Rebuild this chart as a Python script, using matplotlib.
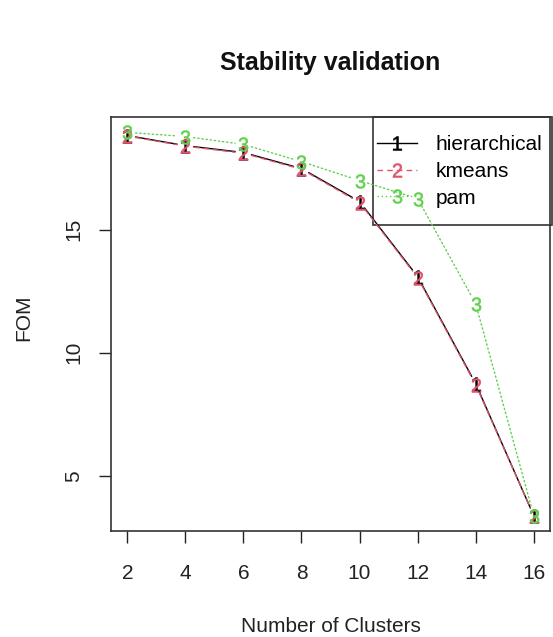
import matplotlib
matplotlib.use("Agg")
import matplotlib.pyplot as plt
from matplotlib.lines import Line2D
from matplotlib.patches import Rectangle

# values
clusters = [2, 4, 6, 8, 10, 12, 14, 16]
fom_hierarchical = [18.82, 18.41, 18.13, 17.48, 16.14, 13.09, 8.74, 3.38]
fom_kmeans = [18.8, 18.39, 18.1, 17.45, 16.1, 13.05, 8.7, 3.38]
fom_pam = [18.95, 18.78, 18.46, 17.76, 16.99, 16.26, 11.99, 3.38]
series_names = ["hierarchical", "kmeans", "pam"]

plt.rcParams["font.family"] = ["Liberation Sans", "DejaVu Sans"]
plt.rcParams["mathtext.fontset"] = "custom"
plt.rcParams["mathtext.rm"] = "Liberation Sans"
plt.rcParams["mathtext.it"] = "Liberation Sans"

colors = ["black", "#DF536B", "#61D04F"]
styles = ["-", (0, (4, 3)), (0, (1, 2))]
symbols = ["$1$", "$2$", "$3$"]

W, H = 553, 637
fig = plt.figure(figsize=(W / 100, H / 100), dpi=100)
ax = fig.add_axes([111 / W, 1 - 531 / H, (550 - 111) / W, (531 - 117) / H])

all_series = [fom_hierarchical, fom_kmeans, fom_pam]

# R style type="b": segments stop short of the point symbols
for vals, c, ls, sym in zip(all_series, colors, styles, symbols):
    for x0, y0, x1, y1 in zip(clusters[:-1], vals[:-1], clusters[1:], vals[1:]):
        ax.annotate("", xy=(x1, y1), xytext=(x0, y0),
                    arrowprops=dict(arrowstyle="-", color=c, linestyle=ls,
                                    lw=1.0, shrinkA=6, shrinkB=6))
    ax.plot(clusters, vals, linestyle="none", marker=sym, markersize=10,
            color=c, markeredgewidth=0.4)

# 4% padding like base R
xmin, xmax = min(clusters), max(clusters)
ymin = min(min(s) for s in all_series)
ymax = max(max(s) for s in all_series)
ax.set_xlim(xmin - 0.04 * (xmax - xmin), xmax + 0.04 * (xmax - xmin))
ax.set_ylim(ymin - 0.04 * (ymax - ymin), ymax + 0.04 * (ymax - ymin))

ax.set_xticks(clusters)
ax.set_yticks([5, 10, 15])
ax.tick_params(axis="both", direction="out", length=8.6, width=1,
               labelsize=15, colors="#222222")
ax.tick_params(axis="x", pad=15)
ax.tick_params(axis="y", pad=11.5)
for lab in ax.get_yticklabels():
    lab.set_rotation(90)
    lab.set_va("center")
for s in ax.spines.values():
    s.set_color("#333333")
    s.set_linewidth(1.2)

ax.set_xlabel("Number of Clusters", fontsize=15, color="#222222")
ax.xaxis.set_label_coords(0.5, -0.23)
ax.xaxis.label.set_va("center")
ax.set_ylabel("FOM", fontsize=15, color="#222222")
ax.yaxis.set_label_coords(-0.198, 0.514)
ax.yaxis.label.set_va("center")
ax.text(0.5, 1.13, "Stability validation", transform=ax.transAxes,
        ha="center", va="center", fontsize=18, fontweight="bold",
        color="#111111")

# legend like R: transparent box, little side padding, roomy top/bottom
handles = [Line2D([], [], color=c, linestyle=ls, marker=sym, markersize=10,
                  lw=1.0, markeredgewidth=0.4)
           for c, ls, sym in zip(colors, styles, symbols)]
ax.legend(handles, series_names, loc="center",
          bbox_to_anchor=((460 - 111) / 439, (531 - 171.5) / 414),
          borderaxespad=0, borderpad=0, fontsize=15, frameon=False,
          handlelength=1.9, handletextpad=0.9, labelspacing=0.37)
ax.add_patch(Rectangle((0.597, 0.739), 0.4076, 0.261, transform=ax.transAxes,
                       fill=False, edgecolor="#333333", lw=1.2, clip_on=False))

fig.savefig("out.png", dpi=100, facecolor="white")
